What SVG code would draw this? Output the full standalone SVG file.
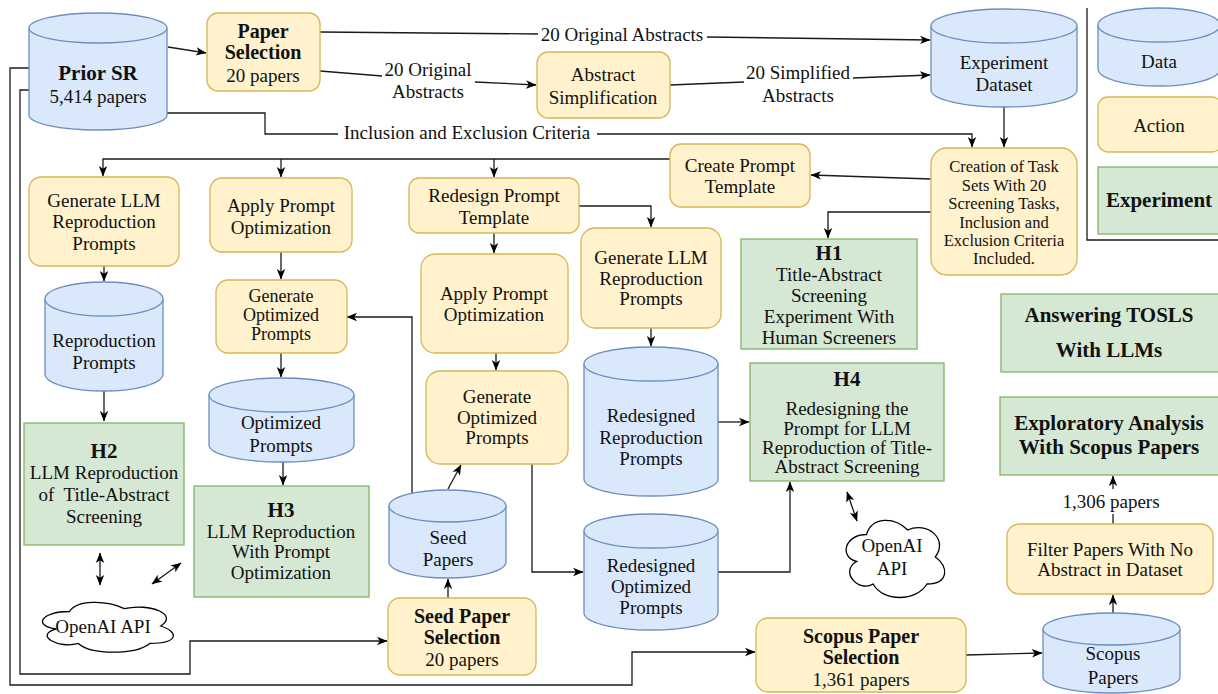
<svg xmlns="http://www.w3.org/2000/svg" width="1218" height="694" viewBox="0 0 1218 694">
<defs>
<marker id="ah" markerUnits="userSpaceOnUse" markerWidth="11" markerHeight="10" refX="10" refY="5" orient="auto-start-reverse" viewBox="0 0 11 10">
<path d="M0,0.8 L10.5,5 L0,9.2 L2.8,5 Z" fill="#000"/>
</marker>
<style>
.d{fill:#dae8fc;stroke:#6c8ebf;stroke-width:1.3}
.a{fill:#fff2cc;stroke:#d6b656;stroke-width:1.3}
.e{fill:#d5e8d4;stroke:#82b366;stroke-width:1.3}
.cl{fill:#fff;stroke:#000;stroke-width:1.3}
.c path{fill:none;stroke:#1a1a1a;stroke-width:1.3}
.ar{marker-end:url(#ah)}
.da{marker-start:url(#ah);marker-end:url(#ah)}
text{font-family:'Liberation Serif','DejaVu Serif',serif;font-size:19px;fill:#111;text-anchor:middle;dominant-baseline:central}
.b{font-weight:bold;font-size:21px}
.bs{font-weight:bold;font-size:20px}
.s{font-size:16.5px}
.t{font-size:18px}
</style>
</defs>
<rect width="1218" height="694" fill="#fff"/>

<g id="connectors" class="c">
<path class="ar" d="M168,47 L206,53"/>
<path d="M320,32 L538,34"/>
<path class="ar" d="M707,37 L930,40"/>
<path d="M320,71 L382,76"/>
<path class="ar" d="M475,82 L536,85"/>
<path d="M670,85 L744,82"/>
<path class="ar" d="M853,78 L930,75"/>
<path d="M167,113 H265 V134 H338"/>
<path class="ar" d="M597,134 H972 V147"/>
<path class="ar" d="M1004,107 V147"/>
<path class="ar" d="M931,179 L811,175"/>
<path class="ar" d="M931,212 H828 V238"/>
<path class="ar" d="M670,159 H103 V176"/>
<path class="ar" d="M281,159 V177"/>
<path class="ar" d="M494,159 V177"/>
<path class="ar" d="M104,266 V281"/>
<path class="ar" d="M104,391 V421"/>
<path class="da" d="M100,553 V585"/>
<path class="da" d="M152,584 L181,563"/>
<path class="ar" d="M281,252 V279"/>
<path class="ar" d="M281,353 V377"/>
<path class="ar" d="M283,462 V485"/>
<path class="ar" d="M412,497 V317 H347"/>
<path class="ar" d="M448,489 L461,465"/>
<path class="ar" d="M448,598 V579"/>
<path class="ar" d="M494,233 V253"/>
<path class="ar" d="M579,206 H651 V227"/>
<path class="ar" d="M496,353 V370"/>
<path class="ar" d="M532,464 V572 H583"/>
<path class="ar" d="M651,328 V346"/>
<path class="ar" d="M718,422 H749"/>
<path class="ar" d="M718,572 H790 V482"/>
<path class="da" d="M847,492 L857,521"/>
<path class="ar" d="M29,90 H20 V674 H190 V641 H387"/>
<path class="ar" d="M29,68 H10 V685 H632 V652 H755"/>
<path class="ar" d="M966,655 L1042,653"/>
<path class="ar" d="M1113,613 V595"/>
<path d="M1113,524 V514"/>
<path class="ar" d="M1113,489 V476"/>
<path d="M1087,8 V240 H1218"/>
</g>

<g id="label-orig-top"><text x="622" y="34">20 Original Abstracts</text></g>
<g id="label-orig"><text x="428" y="69">20 Original</text><text x="428" y="91">Abstracts</text></g>
<g id="label-simp"><text x="798" y="72">20 Simplified</text><text x="798" y="95">Abstracts</text></g>
<g id="label-incl"><text x="467" y="132">Inclusion and Exclusion Criteria</text></g>
<g id="label-1306"><text x="1111" y="501">1,306 papers</text></g>

<g id="prior-sr">
<path class="d" d="M29,28 a69,15 0 0 1 138,0 v87 a69,15 0 0 1 -138,0 z"/>
<path class="d" d="M29,28 a69,15 0 0 0 138,0" fill="none"/>
<text class="b" x="98" y="73">Prior SR</text>
<text x="98" y="96">5,414 papers</text>
</g>

<g id="paper-selection">
<rect class="a" x="207" y="13" width="113" height="78" rx="11"/>
<text class="bs" x="263" y="31">Paper</text>
<text class="bs" x="263" y="52">Selection</text>
<text x="263" y="75">20 papers</text>
</g>

<g id="abstract-simplification">
<rect class="a" x="537" y="52" width="133" height="66" rx="11"/>
<text x="603" y="74">Abstract</text>
<text x="603" y="97">Simplification</text>
</g>

<g id="experiment-dataset">
<path class="d" d="M931,26 a73,17 0 0 1 146,0 v64 a73,17 0 0 1 -146,0 z"/>
<path class="d" d="M931,26 a73,17 0 0 0 146,0" fill="none"/>
<text x="1004" y="62">Experiment</text>
<text x="1004" y="84">Dataset</text>
</g>

<g id="legend-data">
<path class="d" d="M1098,25 a61,17 0 0 1 122,0 v44 a61,17 0 0 1 -122,0 z"/>
<path class="d" d="M1098,25 a61,17 0 0 0 122,0" fill="none"/>
<text x="1159" y="61">Data</text>
</g>
<g id="legend-action">
<rect class="a" x="1098" y="97" width="124" height="55" rx="10"/>
<text x="1159" y="125">Action</text>
</g>
<g id="legend-experiment">
<rect class="e" x="1098" y="167" width="124" height="67"/>
<text class="b" x="1159" y="200">Experiment</text>
</g>

<g id="creation-task-sets">
<rect class="a" x="931" y="148" width="146" height="127" rx="16"/>
<text class="s" x="1004" y="166">Creation of Task</text>
<text class="s" x="1004" y="185">Sets With 20</text>
<text class="s" x="1004" y="203">Screening Tasks,</text>
<text class="s" x="1004" y="222">Inclusion and</text>
<text class="s" x="1004" y="240">Exclusion Criteria</text>
<text class="s" x="1004" y="258">Included.</text>
</g>

<g id="create-prompt-template">
<rect class="a" x="670" y="144" width="140" height="63" rx="11"/>
<text x="740" y="165">Create Prompt</text>
<text x="740" y="186">Template</text>
</g>

<g id="h1">
<rect class="e" x="741" y="239" width="176" height="110"/>
<text class="b" x="829" y="253">H1</text>
<text x="829" y="274">Title-Abstract</text>
<text x="829" y="295">Screening</text>
<text x="829" y="316">Experiment With</text>
<text x="829" y="337">Human Screeners</text>
</g>

<g id="gen-llm-1">
<rect class="a" x="29" y="177" width="150" height="89" rx="12"/>
<text x="104" y="200">Generate LLM</text>
<text x="104" y="221">Reproduction</text>
<text x="104" y="243">Prompts</text>
</g>

<g id="reproduction-prompts">
<path class="d" d="M45,299 a59,17 0 0 1 118,0 v75 a59,17 0 0 1 -118,0 z"/>
<path class="d" d="M45,299 a59,17 0 0 0 118,0" fill="none"/>
<text x="104" y="340">Reproduction</text>
<text x="104" y="362">Prompts</text>
</g>

<g id="h2">
<rect class="e" x="24" y="423" width="160" height="122"/>
<text class="b" x="104" y="451">H2</text>
<text x="104" y="472">LLM Reproduction</text>
<text x="104" y="494" xml:space="preserve">of  Title-Abstract</text>
<text x="104" y="516">Screening</text>
</g>

<g id="openai-1">
<path class="cl" d="M69.5,611.5 C40.3,611.5 33,626 56.4,628.9 C33,635.3 59.3,649.2 78.3,643.4 C91.4,655 135.2,655 149.8,643.4 C179,643.4 179,631.8 160.75,626 C179,614.4 149.8,602.8 124.25,608.6 C106,599.9 76.8,599.9 69.5,611.5 Z"/>
<text x="103" y="626">OpenAI API</text>
</g>

<g id="apply-opt-1">
<rect class="a" x="210" y="178" width="142" height="74" rx="12"/>
<text x="281" y="205">Apply Prompt</text>
<text x="281" y="227">Optimization</text>
</g>

<g id="gen-opt-1">
<rect class="a" x="216" y="280" width="131" height="73" rx="12"/>
<text class="t" x="281" y="296">Generate</text>
<text class="t" x="281" y="315">Optimized</text>
<text class="t" x="281" y="334">Prompts</text>
</g>

<g id="optimized-prompts">
<path class="d" d="M209,395 a72.5,17 0 0 1 145,0 v50 a72.5,17 0 0 1 -145,0 z"/>
<path class="d" d="M209,395 a72.5,17 0 0 0 145,0" fill="none"/>
<text x="281" y="422">Optimized</text>
<text x="281" y="445">Prompts</text>
</g>

<g id="h3">
<rect class="e" x="194" y="486" width="175" height="111"/>
<text class="b" x="281" y="510">H3</text>
<text x="281" y="531">LLM Reproduction</text>
<text x="281" y="551">With Prompt</text>
<text x="281" y="572">Optimization</text>
</g>

<g id="redesign-template">
<rect class="a" x="409" y="178" width="170" height="55" rx="10"/>
<text x="494" y="195">Redesign Prompt</text>
<text x="494" y="217">Template</text>
</g>

<g id="apply-opt-2">
<rect class="a" x="421" y="254" width="147" height="99" rx="14"/>
<text x="494" y="293">Apply Prompt</text>
<text x="494" y="314">Optimization</text>
</g>

<g id="gen-opt-2">
<rect class="a" x="426" y="371" width="142" height="93" rx="14"/>
<text x="497" y="396">Generate</text>
<text x="497" y="417">Optimized</text>
<text x="497" y="437">Prompts</text>
</g>

<g id="seed-papers">
<path class="d" d="M389,506 a58.5,16 0 0 1 117,0 v56 a58.5,16 0 0 1 -117,0 z"/>
<path class="d" d="M389,506 a58.5,16 0 0 0 117,0" fill="none"/>
<text x="448" y="537">Seed</text>
<text x="448" y="559">Papers</text>
</g>

<g id="seed-paper-selection">
<rect class="a" x="388" y="598" width="148" height="77" rx="12"/>
<text class="bs" x="462" y="616">Seed Paper</text>
<text class="bs" x="462" y="637">Selection</text>
<text x="462" y="659">20 papers</text>
</g>

<g id="gen-llm-2">
<rect class="a" x="581" y="228" width="140" height="100" rx="14"/>
<text x="651" y="257">Generate LLM</text>
<text x="651" y="278">Reproduction</text>
<text x="651" y="298">Prompts</text>
</g>

<g id="redesigned-reproduction">
<path class="d" d="M584,364 a67,17 0 0 1 134,0 v115 a67,17 0 0 1 -134,0 z"/>
<path class="d" d="M584,364 a67,17 0 0 0 134,0" fill="none"/>
<text x="651" y="415">Redesigned</text>
<text x="651" y="437">Reproduction</text>
<text x="651" y="458">Prompts</text>
</g>

<g id="redesigned-optimized">
<path class="d" d="M584,531 a67,17 0 0 1 134,0 v82 a67,17 0 0 1 -134,0 z"/>
<path class="d" d="M584,531 a67,17 0 0 0 134,0" fill="none"/>
<text x="651" y="565">Redesigned</text>
<text x="651" y="586">Optimized</text>
<text x="651" y="607">Prompts</text>
</g>

<g id="h4">
<rect class="e" x="750" y="363" width="194" height="118"/>
<text class="b" x="847" y="379">H4</text>
<text x="847" y="408">Redesigning the</text>
<text x="847" y="428">Prompt for LLM</text>
<text x="847" y="447">Reproduction of Title-</text>
<text x="847" y="466">Abstract Screening</text>
</g>

<g id="openai-2">
<path class="cl" d="M866.5,534.5 C844.5,534.5 839,557 856.6,561.5 C839,571.4 858.8,593 873.1,584 C883,602 916,602 927,584 C949,584 949,566 935.25,557 C949,539 927,521 907.75,530 C894,516.5 872,516.5 866.5,534.5 Z"/>
<text x="892" y="545">OpenAI</text>
<text x="892" y="568">API</text>
</g>

<g id="answering-tosls">
<rect class="e" x="1001" y="294" width="220" height="78"/>
<text class="b" x="1109" y="315">Answering TOSLS</text>
<text class="b" x="1109" y="350">With LLMs</text>
</g>

<g id="exploratory-analysis">
<rect class="e" x="1000" y="397" width="220" height="78"/>
<text class="b" x="1109" y="423">Exploratory Analysis</text>
<text class="b" x="1109" y="447">With Scopus Papers</text>
</g>

<g id="filter-papers">
<rect class="a" x="1007" y="524" width="206" height="70" rx="12"/>
<text x="1110" y="549">Filter Papers With No</text>
<text x="1110" y="569">Abstract in Dataset</text>
</g>

<g id="scopus-papers">
<path class="d" d="M1043,629 a68.5,16 0 0 1 137,0 v48 a68.5,16 0 0 1 -137,0 z"/>
<path class="d" d="M1043,629 a68.5,16 0 0 0 137,0" fill="none"/>
<text x="1113" y="653">Scopus</text>
<text x="1113" y="677">Papers</text>
</g>

<g id="scopus-paper-selection">
<rect class="a" x="756" y="618" width="210" height="74" rx="12"/>
<text class="bs" x="861" y="636">Scopus Paper</text>
<text class="bs" x="861" y="657">Selection</text>
<text x="861" y="679">1,361 papers</text>
</g>
</svg>
